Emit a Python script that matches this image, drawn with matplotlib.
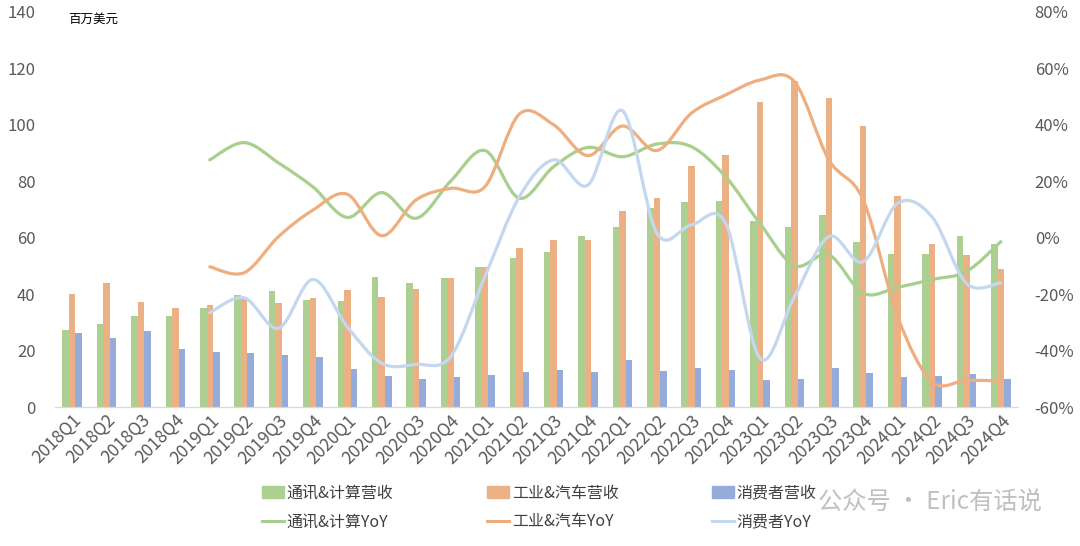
import matplotlib.pyplot as plt
from matplotlib.path import Path
from matplotlib.patches import PathPatch, Patch
from matplotlib.lines import Line2D
from matplotlib.ticker import FuncFormatter
import numpy as np

plt.rcParams['font.family'] = ['Noto Sans CJK SC', 'DejaVu Sans']

quarters = [f'{y}Q{q}' for y in range(2018, 2025) for q in range(1, 5)]

comm_rev = [27.3, 29.5, 32.3, 32.3, 35.0, 39.7, 41.1, 37.8, 37.6, 46.0, 44.0, 45.7, 49.5, 52.7,
            55.1, 60.6, 63.8, 70.7, 72.7, 72.9, 66.1, 63.9, 68.2, 58.5, 54.3, 54.3, 60.6, 57.7]
ind_rev = [40.2, 44.0, 37.2, 35.2, 36.1, 38.8, 37.0, 38.8, 41.6, 39.0, 42.0, 45.7, 49.5, 56.5,
           59.1, 59.2, 69.4, 73.9, 85.5, 89.4, 108.0, 115.4, 109.6, 99.5, 74.9, 57.8, 53.9, 48.9]
cons_rev = [26.3, 24.4, 27.1, 20.7, 19.5, 19.1, 18.4, 17.7, 13.5, 10.9, 10.0, 10.5, 11.3, 12.3,
            13.1, 12.4, 16.7, 12.7, 13.7, 13.1, 9.6, 10.0, 13.7, 11.9, 10.6, 11.0, 11.7, 9.9]

# YoY from 2019Q1 onward (percent)
comm_yoy = [27.6, 33.7, 26.5, 18.0, 7.2, 16.0, 6.9, 20.0, 30.9, 14.0, 25.2, 32.0, 28.7, 33.2,
            32.3, 21.6, 5.0, -9.9, -6.1, -19.7, -17.6, -14.8, -12.0, -1.4]
ind_yoy = [-10.3, -12.4, 0.4, 9.8, 15.4, 0.7, 13.4, 17.5, 18.1, 43.8, 40.0, 29.1, 39.6, 30.9,
           44.1, 50.6, 55.9, 55.3, 27.6, 13.4, -28.0, -51.0, -50.5, -50.8]
cons_yoy = [-26.6, -21.3, -32.1, -14.8, -31.6, -44.5, -44.9, -42.2, -13.8, 14.5, 27.6, 18.7,
            45.0, 1.6, 4.5, 5.1, -42.8, -20.9, 0.4, -8.5, 12.2, 7.4, -16.2, -16.0]

c_green = '#AECF92'
c_orange = '#EBB185'
c_blue = '#95ABD9'
l_green = '#A9CF8C'
l_orange = '#EEAE80'
l_blue = '#C3D7EE'


def smooth_path(xs, ys):
    # cubic bezier through every point, like Excel's smoothed line
    pts = np.column_stack([xs, ys])
    n = len(pts)
    verts = [pts[0]]
    codes = [Path.MOVETO]
    for i in range(n - 1):
        p0 = pts[max(i - 1, 0)]
        p1 = pts[i]
        p2 = pts[i + 1]
        p3 = pts[min(i + 2, n - 1)]
        verts += [p1 + (p2 - p0) / 6, p2 - (p3 - p1) / 6, p2]
        codes += [Path.CURVE4] * 3
    return Path(verts, codes)


fig = plt.figure(figsize=(10.8, 5.46), dpi=100)
ax = fig.add_axes([55 / 1080, 1 - 407 / 546, 963 / 1080, 395 / 546])
ax2 = ax.twinx()

x = np.arange(len(quarters))
w = 0.19
ax.bar(x - w, comm_rev, w, color=c_green)
ax.bar(x, ind_rev, w, color=c_orange)
ax.bar(x + w, cons_rev, w, color=c_blue)

ax.set_xlim(-0.5, len(quarters) - 0.5)
ax.set_ylim(0, 140)
ax.set_yticks(range(0, 141, 20))
ax.set_xticks(x)
ax.set_xticklabels(quarters, rotation=45, ha='right', rotation_mode='anchor')

xy = x[4:]
for vals, col in [(comm_yoy, l_green), (ind_yoy, l_orange), (cons_yoy, l_blue)]:
    ax2.add_patch(PathPatch(smooth_path(xy, vals), facecolor='none', edgecolor=col,
                            lw=2.3, capstyle='round'))
ax2.set_ylim(-60, 80)
ax2.set_yticks(range(-60, 81, 20))
ax2.yaxis.set_major_formatter(FuncFormatter(lambda v, p: f'{v:.0f}%'))

for a in (ax, ax2):
    for s in ['top', 'left', 'right']:
        a.spines[s].set_visible(False)
    a.spines['bottom'].set_color('#D9D9D9')
    a.tick_params(length=0, colors='#595959', labelsize=12)
ax.tick_params(axis='x', labelsize=12.5, pad=3)
ax.tick_params(axis='y', pad=14)
ax2.tick_params(axis='y', pad=12)

fig.text(68 / 1080, 1 - 19 / 546, '百万美元', fontsize=9, va='center', ha='left')

# watermark
fig.text(1042 / 1080, 1 - 503 / 546, '公众号 · Eric有话说', fontsize=17.5, color='#B5B5B5',
         alpha=0.85, va='center', ha='right', zorder=0)

legend_cols = [
    (262, Patch(color=c_green), '通讯&计算营收', Line2D([], [], color=l_green, lw=2.2), '通讯&计算YoY'),
    (487, Patch(color=c_orange), '工业&汽车营收', Line2D([], [], color=l_orange, lw=2.2), '工业&汽车YoY'),
    (712, Patch(color=c_blue), '消费者营收', Line2D([], [], color=l_blue, lw=2.2), '消费者YoY'),
]
for px, h1, t1, h2, t2 in legend_cols:
    fig.legend([h1, h2], [t1, t2], loc='center left',
               bbox_to_anchor=(px / 1080, 1 - 507.5 / 546), frameon=False,
               fontsize=11.5, handlelength=1.4, handletextpad=0.15, labelspacing=0.75,
               borderpad=0, borderaxespad=0, labelcolor='#404040')

fig.savefig('out.png', dpi=100)
